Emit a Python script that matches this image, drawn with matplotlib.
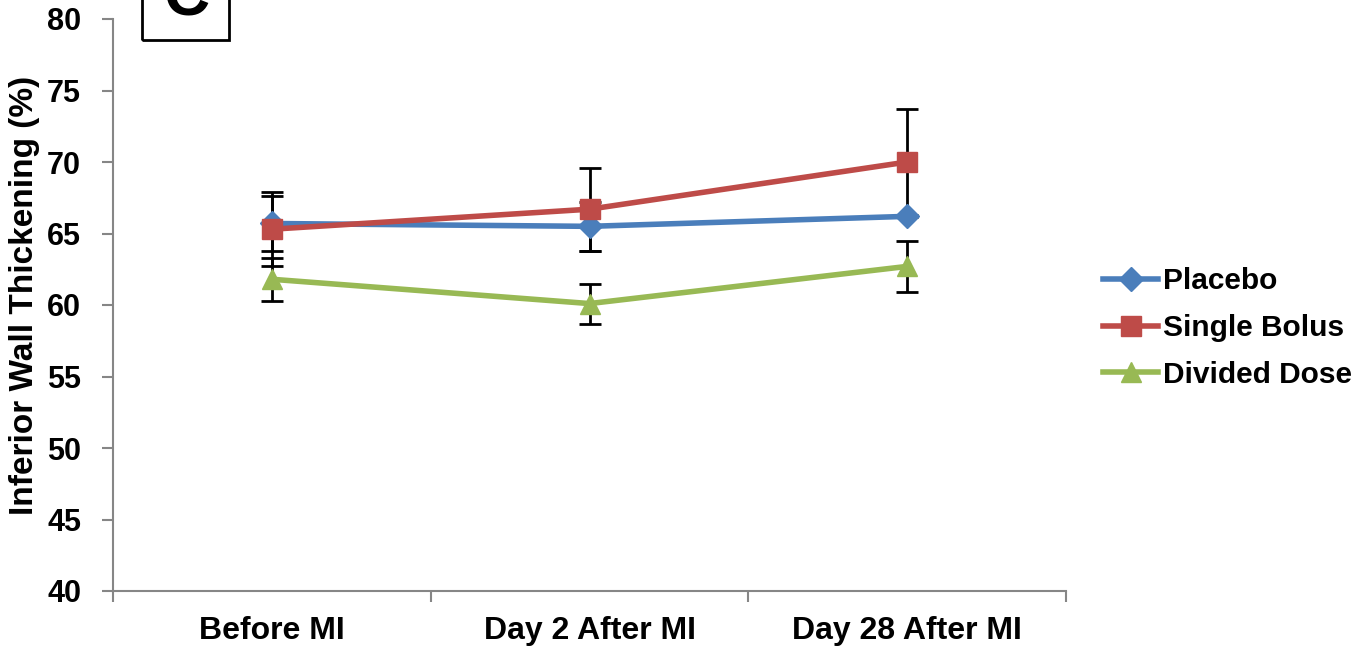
import matplotlib.pyplot as plt
from matplotlib.patches import Rectangle

plt.rcParams['font.family'] = ['Liberation Sans', 'DejaVu Sans']
plt.rcParams['font.weight'] = 'bold'

categories = ['Before MI', 'Day 2 After MI', 'Day 28 After MI']
placebo = [65.7, 65.5, 66.2]
placebo_err = [1.9, 1.7, 0.05]
single_bolus = [65.3, 66.7, 70.0]
single_bolus_err = [2.6, 2.9, 3.7]
divided_dose = [61.8, 60.1, 62.7]
divided_dose_err = [1.5, 1.4, 1.8]
yticks = [40, 45, 50, 55, 60, 65, 70, 75, 80]

series = [
    ('Placebo', placebo, placebo_err, '#4A7EBB', 'D', 12),
    ('Single Bolus', single_bolus, single_bolus_err, '#BE4B48', 's', 14),
    ('Divided Dose', divided_dose, divided_dose_err, '#98B954', '^', 15),
]

fig = plt.figure(figsize=(13.63, 6.48), dpi=100)
ax = fig.add_axes([113 / 1363, 1 - 591 / 648, (1066 - 113) / 1363, (591 - 19) / 648])

x = list(range(len(categories)))
for name, vals, err, col, mk, ms in series:
    ax.errorbar(x, vals, yerr=err, fmt='none', ecolor='black', elinewidth=2,
                capsize=8, capthick=2, zorder=2)
for name, vals, err, col, mk, ms in series:
    ax.plot(x, vals, color=col, lw=4, marker=mk, markersize=ms,
            markeredgecolor=col, label=name, zorder=3)

ax.set_xlim(-0.5, 2.5)
ax.set_ylim(40, 80)
ax.set_yticks(yticks)
ax.set_yticklabels([str(v) for v in yticks], fontsize=22, fontweight='bold')
ax.set_xticks(x)
ax.set_xticklabels(categories, fontsize=23, fontweight='bold')
ax.set_xticks([-0.5, 0.5, 1.5, 2.5], minor=True)
ax.tick_params(axis='x', which='major', length=0, pad=18)
ax.tick_params(axis='x', which='minor', length=8, width=1.5, color='#868686')
ax.tick_params(axis='y', length=8, width=1.5, color='#868686', pad=15)
ax.set_ylabel('Inferior Wall Thickening (%)', fontsize=24, fontweight='bold', va='center')
ax.yaxis.set_label_coords((25 - 113) / 953, (591 - 295) / 572)

for s in ['top', 'right']:
    ax.spines[s].set_visible(False)
for s in ['left', 'bottom']:
    ax.spines[s].set_color('#868686')
    ax.spines[s].set_linewidth(1.5)

ax.legend(loc='center left', bbox_to_anchor=(1103 / 1363, 1 - 328 / 648),
          bbox_transform=fig.transFigure, frameon=False, borderaxespad=0, borderpad=0,
          prop={'size': 21.5, 'weight': 'bold'}, handlelength=1.85,
          handletextpad=0.15, labelspacing=0.62)

# panel letter box
fig.patches.append(Rectangle((142 / 1363, 1 - 40 / 648), (229 - 142) / 1363, 0.2,
                             transform=fig.transFigure, fill=False, lw=2, ec='black'))
fig.text(186 / 1363, 1 - 16 / 648, 'C', fontsize=46, fontweight='bold',
         ha='center', va='baseline')

fig.savefig('out.png', dpi=100)
